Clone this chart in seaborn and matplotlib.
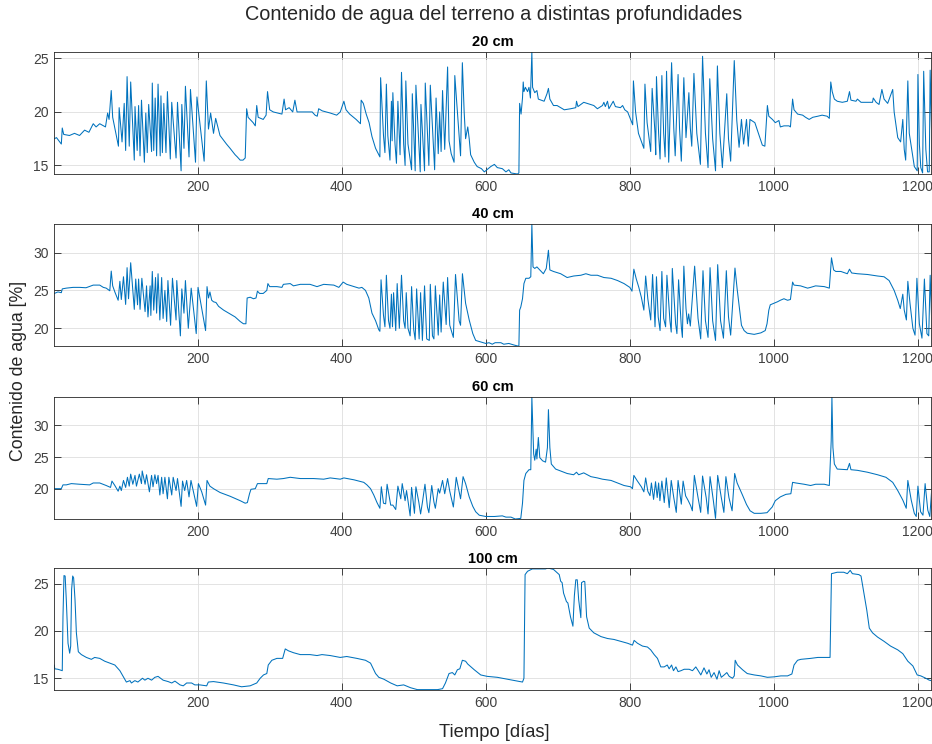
import numpy as np
import pandas as pd
import matplotlib
matplotlib.use("Agg")
import matplotlib.pyplot as plt
import seaborn as sns

# ---- soil water content series (day, % volumetric) ----
days_20 = [1, 4, 10.7, 12, 14, 22, 29, 36, 43, 49, 55, 59, 64, 72, 75, 77, 80, 82, 90, 91, 95, 98, 100, 102, 105, 107, 112, 113, 116, 118, 120, 122, 126, 128, 130, 132, 136, 137, 139, 141, 143, 145, 148, 149, 151, 153, 156, 158, 162, 164, 170, 172, 177, 178, 181, 183, 188, 190, 197, 199, 209, 212, 215, 218, 222, 225, 231, 240, 245, 252, 255, 259, 263, 266, 268, 270, 277, 280, 282, 284, 291, 295, 297, 300, 305, 317, 320, 322, 327, 332, 335, 338, 352, 359, 363, 366, 368, 373, 384, 393, 398, 403, 406, 411, 420, 426, 427, 430, 434, 438, 442, 447, 453, 454, 458, 460, 462, 464, 467, 469, 470, 471, 474, 476, 478, 481, 483, 486, 488, 489, 492, 497, 498, 502, 503, 509, 510, 515, 516, 521, 523, 529, 531, 534, 536, 538, 540, 543, 547, 549, 552, 556, 557, 565, 567.5, 570, 572, 575, 577, 579, 584, 588, 594, 598, 607, 612, 616, 623, 628, 632, 635, 644, 646, 647, 649, 651, 652, 653, 655, 658, 660, 662, 664, 665, 668, 671, 673, 681, 685, 687, 689, 694, 699, 709, 718, 725, 726, 728, 736, 750, 755, 762, 764, 766, 769, 771, 777, 780, 787, 790, 793, 797, 804, 805, 808, 812, 819.5, 821, 824, 829, 831, 835, 836, 837, 840, 842, 844.5, 847, 849, 851, 853, 854, 858, 861, 863, 867, 869, 871.5, 875, 877, 878, 882, 884, 886, 889, 893, 898, 901, 905, 908.6, 911, 915, 919, 921.6, 925, 928.5, 934.6, 937, 940, 945, 948.5, 951.7, 955, 958, 962, 964.5, 966.8, 973.6, 979.6, 984, 987.5, 991, 993, 998, 1002, 1007, 1009, 1014, 1021, 1023, 1026, 1028, 1033, 1040, 1044, 1049, 1054, 1061, 1067, 1074, 1077, 1079, 1081, 1084, 1088, 1095, 1102, 1105, 1107, 1114, 1116, 1121, 1130, 1137, 1138, 1142, 1146, 1150, 1153, 1158, 1165, 1167, 1172, 1176, 1179, 1181, 1183, 1186, 1188, 1192.6, 1195, 1199, 1200, 1202, 1204, 1206.5, 1208, 1211, 1213.4, 1215.7, 1217, 1219, 1221]
wc_20 = [17.5, 17.6, 17.0, 18.5, 17.9, 17.8, 18.0, 17.8, 18.3, 18.1, 18.9, 18.6, 18.9, 18.6, 19.9, 19.3, 22.0, 19.5, 16.8, 20.4, 17.2, 20.8, 16.4, 23.3, 16.8, 22.8, 15.5, 20.5, 16.4, 20.6, 15.9, 21.1, 15.3, 19.9, 16.2, 20.7, 16.3, 22.7, 16.4, 21.3, 15.9, 22.6, 15.9, 21.5, 16.2, 20.8, 16.2, 21.9, 15.6, 20.9, 15.7, 20.9, 14.5, 20.7, 16.6, 22.4, 15.8, 22.1, 15.3, 21.4, 15.4, 22.9, 18.4, 19.9, 18.0, 19.4, 17.8, 17.0, 16.6, 16.0, 15.8, 15.5, 15.5, 15.7, 20.3, 19.5, 19.0, 18.7, 20.6, 19.5, 19.3, 19.7, 21.9, 20.2, 20.0, 19.8, 21.2, 20.2, 20.4, 20.0, 21.1, 20.0, 20.0, 20.0, 19.7, 19.6, 20.3, 20.1, 19.9, 19.7, 20.0, 21.0, 20.2, 19.8, 19.3, 18.9, 21.1, 20.8, 19.8, 19.0, 17.7, 16.6, 15.8, 23.2, 17.8, 16.2, 22.6, 17.8, 15.5, 21.0, 17.3, 21.8, 17.0, 15.2, 21.0, 16.0, 23.7, 17.0, 15.0, 22.9, 17.0, 14.6, 21.7, 14.5, 22.5, 14.4, 20.7, 14.5, 22.7, 15.0, 22.5, 14.6, 21.3, 16.1, 20.0, 16.3, 22.0, 16.5, 24.2, 17.3, 16.1, 15.3, 23.4, 15.9, 24.6, 20.0, 17.5, 18.6, 17.5, 16.0, 15.3, 14.9, 14.7, 14.4, 14.9, 15.1, 14.8, 14.7, 14.4, 14.6, 14.3, 14.2, 14.3, 20.8, 19.8, 21.3, 22.8, 21.9, 22.3, 21.9, 22.3, 21.3, 25.6, 22.3, 21.8, 22.0, 21.2, 21.0, 21.7, 22.2, 21.2, 20.6, 20.6, 20.2, 20.3, 20.4, 21.0, 20.5, 20.9, 20.6, 20.3, 20.6, 20.9, 20.5, 21.0, 20.3, 21.0, 20.5, 20.4, 20.6, 20.2, 20.0, 18.8, 22.9, 20.0, 18.0, 16.6, 22.6, 19.0, 16.3, 22.2, 18.0, 16.0, 23.3, 18.0, 15.6, 23.4, 18.0, 15.8, 23.8, 18.0, 15.3, 24.6, 18.5, 15.9, 23.5, 18.5, 15.4, 23.2, 19.5, 17.6, 21.8, 18.5, 16.8, 23.6, 18.0, 15.1, 25.2, 18.0, 14.8, 23.1, 17.5, 14.5, 24.3, 18.0, 14.8, 21.7, 17.5, 15.4, 24.8, 19.2, 16.7, 19.3, 17.0, 19.3, 16.8, 19.3, 19.0, 17.8, 16.9, 16.8, 20.6, 19.6, 19.3, 19.0, 19.2, 18.6, 18.7, 18.7, 18.6, 21.2, 20.2, 19.8, 19.7, 19.5, 19.3, 19.5, 19.6, 19.7, 19.6, 19.4, 22.8, 21.9, 21.2, 21.0, 20.9, 21.0, 21.9, 21.1, 21.0, 21.2, 20.9, 20.9, 20.9, 21.3, 20.9, 20.7, 22.1, 21.2, 20.8, 22.1, 20.0, 17.6, 17.2, 19.3, 16.5, 15.5, 22.9, 18.0, 16.0, 14.9, 14.5, 23.5, 17.0, 14.8, 14.3, 23.8, 16.5, 14.4, 14.4, 23.9, 18.0, 14.5]

days_40 = [1, 6, 10.7, 12, 17.6, 27, 36, 45, 55, 64, 69, 73, 76, 78, 80, 82, 85, 89.6, 92, 94, 97, 100, 102, 104, 107, 112, 114, 116.5, 118, 120, 122.5, 127, 129, 131, 134, 135, 137, 139, 141.5, 143, 145, 147.5, 150, 152, 154.5, 157, 158.7, 162.4, 165, 170, 171, 176, 178, 181, 183, 187, 191, 198, 200.5, 211, 213, 215, 217, 219.5, 222, 225.5, 229, 236, 245, 252, 259, 263.5, 267, 268.7, 273, 277.5, 281, 283, 286, 291, 296, 297.5, 300, 310, 317, 319, 328.5, 333, 342.5, 356, 365.7, 375, 389, 396, 402, 407, 417, 424, 428, 433, 437.6, 442, 447, 451.5, 453, 454.6, 458, 460, 462, 465, 467, 469, 470.5, 472, 475, 477, 480, 483, 486, 488, 489.6, 492, 495, 497, 500, 502, 504, 507.5, 509.5, 512, 515, 518, 521.6, 523, 526, 528, 530, 534, 536, 538, 541, 545, 547, 550, 555, 558, 563, 565, 567.6, 572, 577, 582, 586, 593, 600, 604.5, 609, 613, 621, 625, 632, 639, 645, 646, 647, 648.6, 651, 653, 655.6, 660, 662.5, 664, 665.6, 668, 671, 674, 680, 684, 687, 689, 694, 704, 713, 722, 732, 739, 746, 755, 764, 774, 783, 792, 800, 803, 805.6, 809, 812.5, 816, 819.5, 822, 825, 829, 831.6, 835, 837, 839.4, 842, 844.5, 847, 849.7, 851.5, 855.7, 857.5, 859, 863.6, 865.4, 867.7, 871.5, 873, 875, 878, 880, 881.7, 884, 890, 894.7, 898.4, 901.6, 905, 908.6, 911.4, 915, 919, 922, 926, 930, 934, 937, 940, 946, 949, 951.7, 955, 958.7, 963, 972.7, 982, 988, 990.5, 993, 995, 1000, 1005, 1009, 1014, 1019, 1023, 1026, 1028, 1037, 1046.8, 1051, 1058, 1070, 1077, 1080, 1083, 1086, 1093, 1102, 1105, 1108, 1116, 1130, 1144, 1153, 1160, 1167, 1172, 1175.5, 1179, 1181, 1184, 1186, 1189, 1193, 1196, 1198.6, 1202, 1205.6, 1209, 1212.5, 1215, 1217, 1219.4, 1221]
wc_40 = [24.6, 24.8, 24.7, 25.2, 25.3, 25.4, 25.4, 25.35, 25.7, 25.7, 25.4, 25.3, 25.1, 24.95, 27.55, 25.6, 24.8, 23.7, 26.2, 23.8, 26.8, 23.15, 28.0, 23.9, 28.65, 22.5, 26.5, 23.1, 26.5, 22.5, 26.6, 22.2, 25.6, 21.5, 25.6, 21.7, 27.5, 22.4, 26.7, 22.0, 27.2, 21.1, 26.7, 21.3, 25.0, 20.9, 26.3, 20.4, 26.6, 21.1, 26.3, 19.0, 25.2, 22.0, 26.3, 20.0, 25.3, 19.3, 25.4, 19.7, 25.5, 24.0, 24.8, 23.7, 23.5, 23.4, 22.9, 22.4, 21.9, 21.5, 20.9, 20.6, 20.6, 24.0, 24.1, 23.9, 24.0, 24.9, 24.6, 24.6, 25.0, 25.9, 25.5, 25.5, 25.4, 25.8, 25.9, 25.6, 25.8, 25.8, 25.5, 25.8, 25.7, 25.4, 26.1, 25.8, 25.5, 25.3, 25.4, 25.0, 24.0, 22.0, 21.0, 19.8, 19.6, 26.4, 21.7, 20.2, 27.0, 21.0, 20.0, 24.5, 20.2, 24.7, 19.7, 25.9, 20.0, 27.0, 21.0, 20.0, 24.7, 20.0, 19.0, 25.5, 19.8, 18.5, 25.2, 18.6, 24.7, 18.4, 25.6, 18.6, 18.4, 25.8, 19.0, 18.6, 25.6, 19.1, 24.4, 19.5, 26.1, 20.5, 26.7, 20.4, 18.8, 27.1, 21.0, 20.4, 27.2, 23.3, 21.1, 19.3, 18.4, 18.2, 18.0, 18.1, 17.9, 18.1, 18.1, 17.9, 18.0, 17.8, 17.65, 17.7, 22.4, 22.8, 23.9, 25.9, 26.6, 26.6, 26.8, 33.7, 28.1, 27.9, 28.1, 27.8, 27.2, 27.9, 30.3, 27.7, 27.5, 27.2, 26.7, 26.9, 27.0, 27.2, 27.0, 27.0, 26.7, 26.6, 26.3, 25.9, 25.4, 24.9, 27.8, 26.5, 25.4, 24.1, 22.4, 26.9, 23.9, 21.1, 27.1, 20.2, 26.8, 21.5, 19.7, 27.5, 21.3, 20.2, 27.0, 21.0, 19.5, 27.9, 20.6, 19.3, 26.4, 20.2, 18.8, 28.2, 22.6, 20.6, 21.9, 20.3, 28.2, 21.3, 18.6, 27.6, 21.0, 18.8, 28.0, 21.0, 18.4, 28.4, 21.0, 18.7, 27.6, 21.5, 19.1, 27.95, 25.2, 23.0, 20.4, 19.7, 19.35, 19.2, 19.4, 19.7, 20.6, 22.4, 23.1, 23.3, 23.5, 23.7, 23.9, 23.7, 23.8, 26.1, 25.7, 25.6, 25.3, 25.4, 25.6, 25.5, 25.3, 29.3, 27.7, 27.5, 27.5, 27.2, 27.8, 27.3, 27.2, 27.1, 26.9, 26.8, 26.3, 25.0, 23.7, 22.6, 24.5, 22.4, 21.1, 26.2, 23.3, 20.0, 19.1, 26.6, 20.6, 18.7, 26.5, 19.3, 19.0, 27.0, 20.2, 20.6]

days_60 = [1, 10.7, 13, 17.6, 24.6, 36, 50, 55, 64, 73, 79, 81, 85, 89.6, 92, 94, 97, 100, 102.5, 105, 107, 110, 113, 115, 119, 122, 123, 127, 129, 133, 136, 138, 140.6, 143, 145, 147.5, 150, 152, 154.5, 158, 160, 164, 166, 170, 172, 177, 179, 182, 184.7, 188, 190.7, 198.6, 201, 205.6, 211, 213, 217, 222, 231, 245, 259, 266, 269, 272, 274, 280, 283, 296, 298, 310, 319, 328.5, 342.5, 361, 375, 384, 398, 403, 417, 430.6, 435, 440, 444.5, 449, 453, 455, 458, 461, 463, 468, 471, 475, 478, 482, 484, 488, 490, 495, 497, 501, 503, 507, 509.5, 512, 515.6, 519, 521, 525, 528, 530, 534, 536, 540, 543, 547, 550, 555, 559, 565, 568.5, 572, 577, 582, 586, 591, 600, 612, 623, 628, 635, 641, 648.6, 651, 653, 655.6, 660, 662.5, 664, 666.5, 668, 670, 671, 673, 675, 679, 683, 685.6, 687, 689, 691, 697, 704, 713, 722, 726, 729, 736, 746, 755, 762, 774, 783, 792, 801, 803.7, 805.6, 810, 816, 819.5, 822, 825, 828, 830, 833, 835.7, 838, 840, 841.8, 844.5, 847.8, 850.6, 854.7, 857.5, 861, 864.5, 867, 871.5, 874, 877.5, 880.7, 884.5, 886.8, 889.6, 894.7, 898.4, 901, 906, 908.6, 911.4, 916, 919, 922, 927, 930.6, 933.4, 937.6, 942, 945.6, 949, 956, 962, 967, 972.7, 982, 990.5, 997.7, 1002, 1009, 1016.7, 1023.6, 1026, 1030.6, 1042, 1051, 1058, 1070, 1077, 1079.6, 1080.6, 1082, 1084, 1088, 1102, 1105, 1107, 1116, 1130, 1144, 1155.6, 1165, 1172, 1179, 1183.8, 1186, 1190.7, 1195, 1197.7, 1200, 1203.7, 1207, 1210, 1213.7, 1216.5, 1219.4, 1221]
wc_60 = [20.0, 20.0, 20.6, 20.6, 20.8, 20.7, 20.6, 20.9, 20.9, 20.5, 20.2, 21.2, 20.5, 19.6, 20.4, 19.7, 21.3, 20.2, 21.8, 20.4, 22.3, 20.7, 22.1, 20.4, 22.3, 20.8, 22.8, 20.7, 22.2, 19.5, 22.1, 20.3, 22.2, 20.8, 22.1, 19.0, 21.8, 19.2, 21.8, 18.4, 21.8, 19.0, 21.8, 19.7, 21.6, 17.2, 21.2, 19.7, 21.3, 18.7, 21.3, 17.2, 20.8, 19.5, 17.4, 21.3, 20.4, 20.0, 19.4, 18.8, 18.1, 17.7, 17.8, 19.2, 19.9, 20.0, 20.8, 20.8, 21.6, 21.5, 21.6, 21.8, 21.6, 21.6, 21.5, 21.7, 21.5, 21.7, 21.4, 21.0, 20.6, 20.0, 19.0, 17.8, 16.9, 20.3, 17.7, 17.6, 20.7, 17.4, 17.4, 16.7, 20.4, 18.4, 20.8, 18.1, 19.7, 15.7, 20.2, 16.1, 20.3, 17.9, 16.0, 17.8, 20.7, 17.1, 16.2, 20.5, 17.9, 16.9, 20.0, 19.3, 21.3, 19.2, 21.6, 19.6, 17.1, 21.8, 18.4, 21.9, 20.8, 18.7, 17.2, 16.35, 15.8, 15.6, 15.6, 15.7, 15.5, 15.5, 15.2, 15.3, 17.7, 21.3, 22.4, 23.0, 23.0, 34.5, 25.5, 24.5, 26.25, 24.7, 28.1, 24.9, 24.4, 24.2, 26.5, 32.5, 26.5, 23.9, 23.1, 22.8, 22.4, 22.2, 22.6, 22.2, 22.5, 21.9, 21.7, 21.5, 21.3, 20.9, 20.5, 20.3, 20.0, 22.1, 21.3, 20.3, 19.5, 21.7, 19.6, 18.9, 20.9, 18.3, 21.1, 18.6, 20.9, 18.1, 21.2, 17.8, 21.7, 17.0, 21.3, 18.6, 16.25, 21.3, 17.55, 21.2, 18.85, 18.2, 17.3, 16.5, 22.1, 18.6, 16.25, 22.0, 18.6, 16.0, 21.9, 18.1, 15.3, 22.1, 18.6, 16.25, 21.9, 18.6, 16.5, 22.4, 20.9, 19.1, 17.5, 16.5, 16.1, 16.1, 16.2, 17.1, 18.1, 18.7, 19.1, 19.2, 21.0, 20.9, 20.7, 20.5, 20.7, 20.7, 20.5, 27.55, 34.5, 26.5, 23.9, 23.1, 23.0, 24.0, 23.0, 22.9, 22.6, 22.2, 21.8, 21.0, 19.7, 18.2, 16.9, 21.3, 18.2, 16.1, 15.6, 20.4, 16.35, 15.8, 20.8, 16.6, 15.6, 20.3, 18.0]

days_100 = [1, 1.5, 6, 12, 13, 14.4, 16, 17.6, 20, 22.3, 23.7, 25, 26.5, 27.8, 29.7, 31.6, 34.3, 38.5, 45.5, 52.4, 57, 64, 71, 78, 85, 92, 96.5, 101, 106, 108, 112.8, 117, 123.4, 126.7, 131, 136, 140.6, 145, 152, 159, 164, 168.4, 175.5, 180, 184.7, 191.6, 196, 203, 212.5, 214.8, 222, 235.7, 249.7, 261, 272.8, 282, 286.8, 291.4, 296, 298, 303, 310, 318, 321.6, 326, 333, 342.5, 356, 365.7, 372.6, 384, 398, 407, 421, 433, 440, 447, 451.5, 458.5, 468, 477, 486, 495.6, 505, 514, 523, 533, 540, 544, 549, 553.6, 557, 560.6, 564, 567.5, 572, 575, 584, 593, 602, 616, 630, 641, 651, 653, 654.6, 658, 664.6, 676, 683, 686, 694, 702, 704, 706, 708, 712, 714, 717.6, 721, 723, 725, 727, 729, 732, 733, 736, 737.5, 740, 743.6, 750, 760, 769, 778, 787.5, 796.8, 803.7, 806, 810.6, 817.6, 824.5, 829, 833.8, 838.4, 843, 847.7, 852, 854.6, 858, 860.6, 864, 867, 871, 875.5, 882.4, 887, 891.6, 895, 898.6, 903, 907, 910, 913, 917, 921, 924, 927, 931, 934.7, 938, 942.6, 945, 946.3, 949.5, 956.5, 963, 972.7, 982, 991, 1000.5, 1009.7, 1019, 1025, 1028, 1032.9, 1037.5, 1051, 1061, 1070, 1078, 1080, 1088, 1097, 1102, 1106, 1109, 1118, 1121, 1125, 1129, 1132.5, 1137, 1144, 1153, 1162, 1172, 1179, 1186, 1193, 1199, 1204, 1211, 1215.7, 1221]
wc_100 = [16.4, 16.0, 15.95, 15.8, 21.5, 25.85, 25.8, 23.3, 18.7, 17.65, 18.4, 24.4, 25.8, 25.6, 23.3, 19.8, 17.8, 17.5, 17.2, 17.0, 17.2, 17.1, 16.8, 16.6, 16.4, 15.8, 15.2, 14.6, 14.75, 14.5, 14.75, 14.6, 15.0, 14.8, 15.0, 14.8, 15.1, 15.2, 14.8, 14.65, 14.5, 14.7, 14.3, 14.2, 14.5, 14.5, 14.3, 14.3, 14.2, 14.6, 14.65, 14.5, 14.3, 14.1, 14.2, 14.5, 15.0, 15.35, 15.5, 16.4, 16.9, 17.1, 17.1, 18.1, 17.9, 17.7, 17.5, 17.5, 17.4, 17.5, 17.4, 17.2, 17.3, 17.1, 16.9, 16.6, 15.5, 15.1, 14.9, 14.5, 14.2, 14.3, 14.0, 13.8, 13.8, 13.8, 13.8, 13.9, 14.5, 15.5, 15.6, 15.35, 15.9, 16.0, 16.9, 16.8, 16.5, 15.9, 15.35, 15.2, 15.1, 14.9, 14.75, 14.6, 15.0, 25.95, 26.3, 26.55, 26.55, 26.55, 26.65, 26.5, 25.95, 25.25, 25.1, 24.0, 23.1, 22.95, 21.5, 20.5, 23.7, 25.4, 25.4, 23.3, 21.4, 25.1, 25.25, 25.2, 21.5, 20.3, 19.8, 19.4, 19.2, 19.1, 18.9, 18.7, 18.5, 19.0, 18.7, 18.4, 18.3, 18.0, 17.5, 17.1, 16.2, 16.2, 16.4, 16.0, 16.4, 15.8, 16.2, 15.7, 15.8, 15.95, 15.95, 15.8, 16.2, 15.8, 15.35, 16.1, 15.45, 15.9, 15.1, 15.6, 14.9, 15.8, 15.1, 15.35, 15.6, 15.2, 15.0, 15.25, 16.9, 16.4, 15.9, 15.5, 15.35, 15.25, 15.1, 15.15, 15.25, 15.25, 15.45, 16.4, 16.9, 17.0, 17.1, 17.2, 17.2, 17.2, 26.05, 26.2, 26.2, 26.05, 26.4, 26.05, 25.95, 25.8, 24.0, 22.2, 20.3, 19.8, 19.35, 18.9, 18.4, 18.0, 17.6, 16.8, 16.3, 15.35, 15.25, 15.0, 14.8, 14.7]

depth_labels = ["20 cm", "40 cm", "60 cm", "100 cm"]
series = [(days_20, wc_20), (days_40, wc_40), (days_60, wc_60), (days_100, wc_100)]
y_limits = [(14.2, 25.6), (17.66, 33.76), (15.2, 34.5), (13.73, 26.62)]
y_ticks = [[15, 20, 25], [20, 25, 30], [20, 25, 30], [15, 20, 25]]
x_ticks = [200, 400, 600, 800, 1000, 1200]

# ---- styling ----
sns.set_theme(style="white")
plt.rcParams["font.family"] = ["Liberation Sans", "DejaVu Sans"]

LINE_COLOR = "#0072BD"
AXIS_COLOR = "#262626"
GRID_COLOR = "#dedede"

fig = plt.figure(figsize=(9.32, 7.44), dpi=100)
fig.patch.set_facecolor("white")

left, width, height = 0.0583, 0.9405, 0.1640
bottoms = [0.7661, 0.5349, 0.3024, 0.0722]

for i, ((d, w), label) in enumerate(zip(series, depth_labels)):
    ax = fig.add_axes([left, bottoms[i], width, height])
    df = pd.DataFrame({"dia": d, "agua": w})
    sns.lineplot(data=df, x="dia", y="agua", ax=ax, color=LINE_COLOR,
                 linewidth=0.75, estimator=None, sort=False)
    ax.set_xlim(1, 1218)
    ax.set_ylim(*y_limits[i])
    ax.set_xticks(x_ticks)
    ax.set_yticks(y_ticks[i])
    ax.set_xlabel("")
    ax.set_ylabel("")
    ax.grid(True, color=GRID_COLOR, linewidth=0.6)
    ax.set_axisbelow(True)
    ax.tick_params(direction="in", length=5, width=0.6, colors=AXIS_COLOR,
                   labelcolor="#404040", labelsize=10,
                   bottom=True, left=True, top=True, right=True, pad=4)
    for s in ax.spines.values():
        s.set_color(AXIS_COLOR)
        s.set_linewidth(0.6)
    ax.set_title(label, fontsize=10.5, fontweight="bold", color="black", pad=4)

fig.text(0.530, 0.980, "Contenido de agua del terreno a distintas profundidades",
         ha="center", va="center", fontsize=14.3, color="#262626")
fig.text(0.0199, 0.5013, "Contenido de agua [%]", rotation=90,
         ha="center", va="center", fontsize=12.8, color="#262626")
fig.text(0.530, 0.016, "Tiempo [días]", ha="center", va="center",
         fontsize=13.2, color="#262626")

fig.savefig("out.png", dpi=100, facecolor="white")
